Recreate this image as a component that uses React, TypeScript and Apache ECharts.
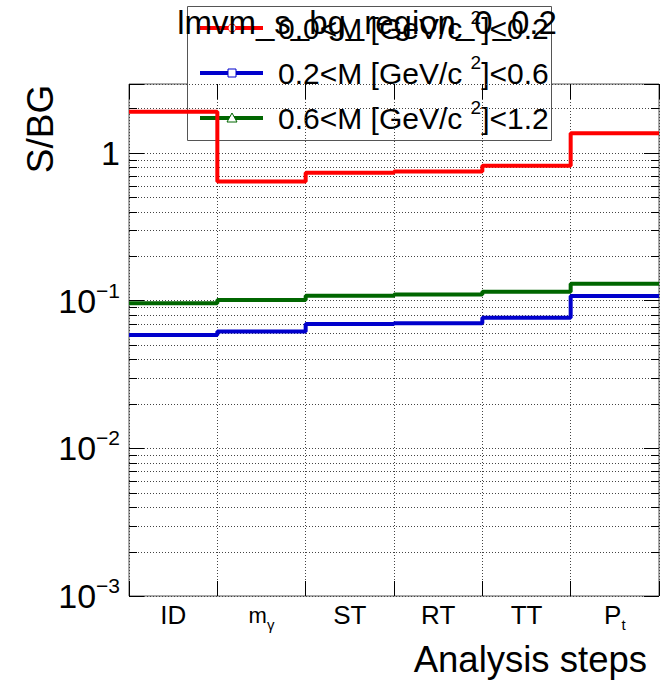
import React, { useEffect, useRef } from 'react';
import * as echarts from 'echarts';

const FONT = 'Liberation Sans, Arial, Helvetica, sans-serif';

const categories = ['ID', 'm_γ', 'ST', 'RT', 'TT', 'P_t'];
const categoryLabels = ['{b|ID}', '{m|m}{sub|γ}', '{b|ST}', '{b|RT}', '{b|TT}', '{b|P}{sub|t}'];

const seriesNames = ['0.0<M [GeV/c 2]<0.2', '0.2<M [GeV/c 2]<0.6', '0.6<M [GeV/c 2]<1.2'];
const legendLabels = [
  '{n|0.0<M [GeV/c }{s|2}{n|]<0.2}',
  '{n|0.2<M [GeV/c }{s|2}{n|]<0.6}',
  '{n|0.6<M [GeV/c }{s|2}{n|]<1.2}',
];
const seriesColors = ['#ff0000', '#0000cc', '#006600'];
const legendMarkers = ['circle', 'square', 'triangle'];

const redValues = [1.9, 0.64, 0.735, 0.75, 0.82, 1.36];
const blueValues = [0.0586, 0.0618, 0.0695, 0.0703, 0.0767, 0.1076];
const greenValues = [0.096, 0.101, 0.108, 0.11, 0.115, 0.13];

const yMin = 0.001;
const yMax = 2.93;
const yMajorTicks = [0.001, 0.01, 0.1, 1];
const yMajorLabels = ['{b|10}{s|−3}', '{b|10}{s|−2}', '{b|10}{s|−1}', '{b|1}'];
const minorMultipliers = [2, 3, 4, 5, 6, 7, 8, 9];

const titleText = 'lmvm_s_bg_region_0_0.2';
const xTitle = 'Analysis steps';
const yTitle = 'S/BG';

const allValues = [redValues, blueValues, greenValues];

function stepData(vals: number[]) {
  const pts: number[][] = vals.map((v, i) => [i, v]);
  pts.push([vals.length, vals[vals.length - 1]]);
  return pts;
}

export default function App() {
  const ref = useRef<HTMLDivElement>(null);
  useEffect(() => {
    if (!ref.current) return;
    const chart = echarts.init(ref.current, undefined, { renderer: 'svg' });

    const minorValues: number[][] = [];
    yMajorTicks.forEach((d) => {
      minorMultipliers.forEach((m) => {
        const v = d * m;
        if (v < yMax) minorValues.push([0, v]);
      });
    });

    const gridL = 129, gridT = 84, gridW = 530, gridH = 512;
    const dotted = { color: '#444', width: 1, type: [1, 2] as any };

    const legendChildren: any[] = [
      {
        type: 'rect',
        shape: { x: 187.5, y: 6.5, width: 364, height: 134 },
        style: { fill: '#fff', stroke: '#555', lineWidth: 1 },
      },
    ];
    const rowY = [28, 73, 118];
    seriesNames.forEach((_, i) => {
      const y = rowY[i];
      legendChildren.push({
        type: 'line',
        shape: { x1: 200, y1: y, x2: 263, y2: y },
        style: { stroke: seriesColors[i], lineWidth: 4 },
      });
      const mk = legendMarkers[i];
      if (mk === 'circle') {
        legendChildren.push({ type: 'circle', shape: { cx: 232, cy: y, r: 4 }, style: { fill: '#fff', stroke: seriesColors[i], lineWidth: 1 } });
      } else if (mk === 'square') {
        legendChildren.push({ type: 'rect', shape: { x: 228, y: y - 4, width: 8, height: 8 }, style: { fill: '#fff', stroke: seriesColors[i], lineWidth: 1 } });
      } else {
        legendChildren.push({ type: 'polygon', shape: { points: [[232, y - 5], [227, y + 4], [237, y + 4]] }, style: { fill: '#fff', stroke: seriesColors[i], lineWidth: 1 } });
      }
      legendChildren.push({
        type: 'text',
        x: 278,
        y: y,
        style: {
          text: legendLabels[i],
          fill: '#000',
          fontFamily: FONT,
          verticalAlign: 'middle',
          align: 'left',
          rich: {
            n: { fontSize: 30, fontFamily: FONT, fill: '#000', lineHeight: 40, verticalAlign: 'middle' },
            s: { fontSize: 19, fontFamily: FONT, fill: '#000', lineHeight: 16, verticalAlign: 'top' },
          },
        },
      });
    });

    const lineSeries = allValues.map((vals, i) => ({
      name: seriesNames[i],
      type: 'line',
      xAxisIndex: 1,
      yAxisIndex: 0,
      step: 'end',
      symbol: 'none',
      data: stepData(vals),
      lineStyle: { color: seriesColors[i], width: 4 },
      itemStyle: { color: seriesColors[i] },
      z: 5,
    }));

    chart.setOption({
      animation: false,
      backgroundColor: '#fff',
      textStyle: { fontFamily: FONT },
      grid: {
        left: gridL, top: gridT, width: gridW, height: gridH,
        show: true, borderColor: '#555', borderWidth: 1, backgroundColor: 'transparent',
        containLabel: false,
      },
      xAxis: [
        {
          type: 'category',
          data: categories,
          boundaryGap: true,
          position: 'bottom',
          axisLine: { show: false },
          axisTick: { show: true, inside: true, length: 15, lineStyle: { color: '#000', width: 1 } },
          splitLine: { show: true, lineStyle: dotted },
          axisLabel: {
            margin: 2,
            interval: 0,
            formatter: (v: string) => categoryLabels[categories.indexOf(v)],
            rich: {
              b: { fontSize: 26, fontFamily: FONT, color: '#000', lineHeight: 34, verticalAlign: 'middle' },
              m: { fontSize: 22, fontFamily: FONT, color: '#000', lineHeight: 34, verticalAlign: 'middle' },
              sub: { fontSize: 15, fontFamily: FONT, color: '#000', verticalAlign: 'bottom' },
            },
          },
        },
        {
          type: 'value', min: 0, max: categories.length, show: false,
        },
        {
          type: 'category',
          data: categories,
          boundaryGap: true,
          position: 'top',
          axisLine: { show: false },
          axisTick: { show: true, inside: true, length: 15, lineStyle: { color: '#000', width: 1 } },
          axisLabel: { show: false },
          splitLine: { show: false },
        },
      ],
      yAxis: [
        {
          type: 'log',
          logBase: 10,
          min: yMin,
          max: yMax,
          position: 'left',
          axisLine: { show: false },
          axisTick: { show: true, inside: true, length: 15, lineStyle: { color: '#000', width: 1 } },
          splitLine: { show: true, lineStyle: dotted },
          axisLabel: {
            margin: 9,
            formatter: (v: number) => {
              const idx = yMajorTicks.findIndex((t) => Math.abs(Math.log10(t) - Math.log10(v)) < 1e-6);
              return idx >= 0 ? yMajorLabels[idx] : '';
            },
            rich: {
              b: { fontSize: 34, fontFamily: FONT, color: '#000', lineHeight: 42, verticalAlign: 'middle' },
              s: { fontSize: 21, fontFamily: FONT, color: '#000', lineHeight: 20, verticalAlign: 'top' },
            },
          },
        },
        {
          type: 'log',
          logBase: 10,
          min: yMin,
          max: yMax,
          position: 'right',
          axisLine: { show: false },
          axisTick: { show: true, inside: true, length: 15, lineStyle: { color: '#000', width: 1 } },
          splitLine: { show: false },
          axisLabel: { show: false },
        },
      ],
      series: [
        {
          type: 'custom',
          xAxisIndex: 1,
          yAxisIndex: 0,
          z: 1,
          silent: true,
          clip: false,
          data: minorValues,
          renderItem: (params: any, api: any) => {
            const p = api.coord([0, api.value(1)]);
            const cs = params.coordSys;
            const y = Math.round(p[1]) + 0.5;
            return {
              type: 'group',
              children: [
                { type: 'line', shape: { x1: cs.x, y1: y, x2: cs.x + cs.width, y2: y }, style: { stroke: '#444', lineWidth: 1, lineDash: [1, 2] } },
                { type: 'line', shape: { x1: cs.x, y1: y, x2: cs.x + 8, y2: y }, style: { stroke: '#000', lineWidth: 1 } },
                { type: 'line', shape: { x1: cs.x + cs.width - 8, y1: y, x2: cs.x + cs.width, y2: y }, style: { stroke: '#000', lineWidth: 1 } },
              ],
            };
          },
        },
        ...lineSeries,
      ],
      graphic: [
        { type: 'group', z: 50, children: legendChildren },
        {
          type: 'text', z: 60, x: 367, y: 22,
          style: { text: titleText, fontSize: 33, fontFamily: FONT, fill: '#000', align: 'center', verticalAlign: 'middle' },
        },
        {
          type: 'text', z: 60, x: 647, y: 659,
          style: { text: xTitle, fontSize: 36.5, fontFamily: FONT, fill: '#000', align: 'right', verticalAlign: 'middle' },
        },
        {
          type: 'text', z: 60, x: 40, y: 129, rotation: Math.PI / 2,
          style: { text: yTitle, fontSize: 37, fontFamily: FONT, fill: '#000', align: 'center', verticalAlign: 'middle' },
        },
      ],
    });
    return () => chart.dispose();
  }, []);
  return <div ref={ref} style={{ position: 'absolute', left: 0, top: 0, width: 662, height: 683 }} />;
}
